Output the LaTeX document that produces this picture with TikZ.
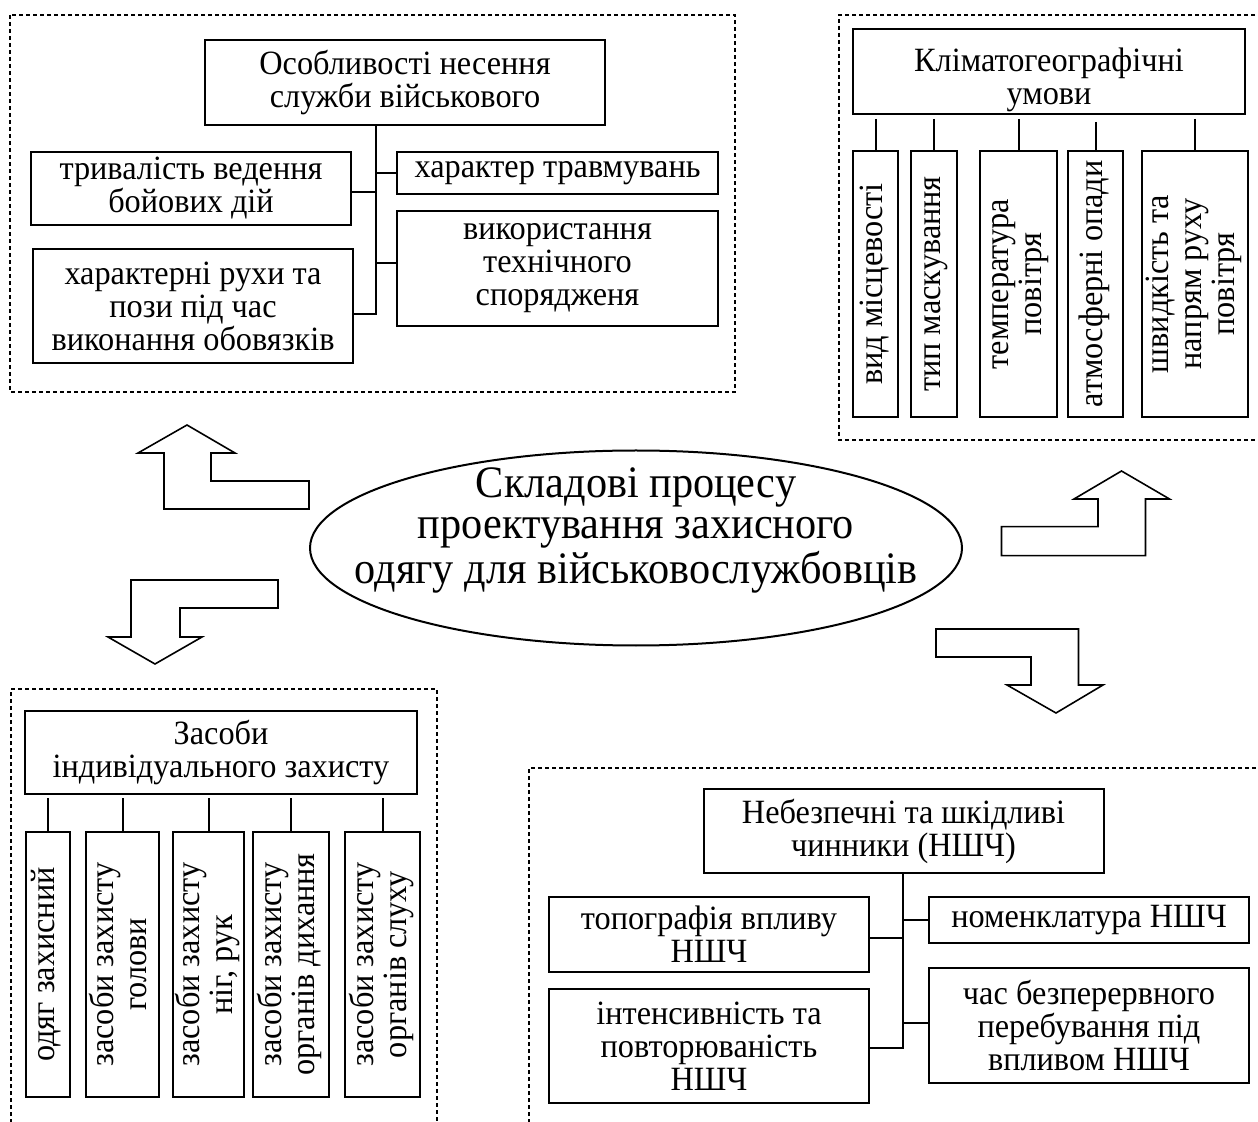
\documentclass[tikz,border=0pt]{standalone}
\usepackage{graphicx}
\usepackage{fontspec}
\setmainfont{Liberation Serif}
\newfontfamily\boxfont[FakeStretch=0.95]{Liberation Serif}
\newfontfamily\condfont[FakeStretch=0.94]{Liberation Serif}
\usetikzlibrary{shapes.geometric}
\newcommand\vtext[1]{\rotatebox{90}{\begin{tabular}{@{}c@{}}#1\end{tabular}}}
\begin{document}
\begin{tikzpicture}[x=0.5pt,y=-0.5pt,
  box/.style={draw,line width=1pt,align=center,inner sep=0pt,font=\boxfont\fontsize{17}{16.5}\selectfont},
  conn/.style={line width=1pt},
  dashframe/.style={line width=0.8pt,dash pattern=on 2pt off 1.5pt},
  blockarrow/.style={draw,line width=0.8pt,line join=miter}]
\useasboundingbox (0,0) rectangle (1258,1122);

% ---------- frames ----------
\draw[dashframe] (10,15) rectangle (735,392);
\draw[dashframe] (1262,15) -- (839,15) -- (839,440) -- (1262,440);
\draw[dashframe] (11,1130) -- (11,689) -- (437,689) -- (437,1130);
\draw[dashframe] (529,1130) -- (529,768) -- (1262,768);

% ---------- top-left block ----------
\node[box,minimum width=200pt,minimum height=42.5pt] (tlT) at (405,82.5) {Особливості несення\\служби військового};
\node[box,minimum width=160pt,minimum height=36.5pt] (tlL1) at (191,188.5) {тривалість ведення\\бойових дій};
\node[box,minimum width=160pt,minimum height=57pt] (tlL2) at (193,306) {характерні рухи та\\пози під час\\виконання обовязків};
\node[box,minimum width=160.5pt,minimum height=21pt] (tlR1) at (557.5,173) {характер травмувань};
\node[box,minimum width=160.5pt,minimum height=57.5pt] (tlR2) at (557.5,268.5) {використання\\технічного\\спорядженя};
\coordinate (tlJ) at (376,314);
\draw[conn] (tlT.south -| tlJ) -- (tlJ) -- ([yshift=-4pt]tlL2.east);
\draw[conn] (tlR1.west) -- (tlR1.west -| tlJ);
\draw[conn] ([yshift=-1.75pt]tlL1.east) -- ([yshift=-1.75pt]tlL1.east -| tlJ);
\draw[conn] ([yshift=2.75pt]tlR2.west) -- ([yshift=2.75pt]tlR2.west -| tlJ);

% ---------- top-right block ----------
\node[box,minimum width=196pt,minimum height=42.5pt] (trT) at (1049,71.5)
  {\raisebox{-9pt}[0pt][0pt]{\begin{tabular}{@{}c@{}}Кліматогеографічні\\умови\end{tabular}}};
\node[box,minimum width=22.5pt,minimum height=133pt] (trV1) at (875.5,284) {\vtext{вид місцевості}};
\node[box,minimum width=23pt,minimum height=133pt] (trV2) at (934,284) {\vtext{тип маскування}};
\node[box,minimum width=38.5pt,minimum height=133pt] (trV3) at (1018.5,284) {\vtext{температура\\повітря}};
\node[box,minimum width=27.5pt,minimum height=133pt] (trV4) at (1095.5,284) {\vtext{атмосферні опади}};
\node[box,minimum width=53pt,minimum height=133pt] (trV5) at (1195,284) {\vtext{швидкість та\\напрям руху\\повітря}};
\foreach \n in {trV1,trV2,trV3,trV5}
  \draw[conn] ([yshift=-2pt]trT.south -| \n.north) -- (\n.north);
\draw[conn] ([yshift=-3.5pt]trT.south -| trV4.north) -- (trV4.north);

% ---------- centre ----------
\node[draw,ellipse,line width=1pt,minimum width=326pt,minimum height=97.5pt,inner sep=0pt] (ctr) at (636,548)
  {\raisebox{3pt}[0pt][0pt]{\makebox[0pt]{\condfont\fontsize{22.5}{20.5}\selectfont\begin{tabular}{@{}c@{}}Складові процесу\\проектування захисного\\одягу для військовослужбовців\end{tabular}}}};

% ---------- block arrows ----------
\draw[blockarrow] (309,481) -- (211,481) -- (211,453) -- (235,453) -- (187,425) -- (138,453) -- (164,453) -- (164,509) -- (309,509) -- cycle;
\draw[blockarrow] (278,580) -- (131,580) -- (131,637) -- (108,637) -- (155,664) -- (202,637) -- (180,637) -- (180,608) -- (278,608) -- cycle;
\draw[blockarrow] (1001.5,526.7) -- (1098,526.7) -- (1098,499) -- (1074,499) -- (1121.5,471) -- (1169.5,499) -- (1145.5,499) -- (1145.5,555.7) -- (1001.5,555.7) -- cycle;
\draw[blockarrow] (936,629) -- (1078.5,629) -- (1078.5,685) -- (1103,685) -- (1056,713) -- (1007,685) -- (1031,685) -- (1031,657) -- (936,657) -- cycle;

% ---------- bottom-left block ----------
\node[box,minimum width=196pt,minimum height=41.5pt] (blT) at (221,752.5) {Засоби\\індивідуального захисту};
\node[box,minimum width=22pt,minimum height=132.5pt] (blV1) at (48,964.5) {\vtext{одяг захисний}};
\node[box,minimum width=36.5pt,minimum height=132.5pt] (blV2) at (122.5,964.5) {\vtext{засоби захисту\\голови}};
\node[box,minimum width=35.5pt,minimum height=132.5pt] (blV3) at (208.5,964.5) {\vtext{засоби захисту\\ніг, рук}};
\node[box,minimum width=38pt,minimum height=132.5pt] (blV4) at (291,964.5) {\vtext{засоби захисту\\органів дихання}};
\node[box,minimum width=37.5pt,minimum height=132.5pt] (blV5) at (382.5,964.5) {\vtext{засоби захисту\\органів слуху}};
\foreach \n in {blV1,blV2,blV3,blV4,blV5}
  \draw[conn] ([yshift=-1.5pt]blT.south -| \n.north) -- (\n.north);

% ---------- bottom-right block ----------
\node[box,minimum width=200pt,minimum height=42pt] (brT) at (903.5,831) {Небезпечні та шкідливі\\чинники (НШЧ)};
\node[box,minimum width=160pt,minimum height=37.5pt] (brL1) at (709,934.5) {топографія впливу\\НШЧ};
\node[box,minimum width=160pt,minimum height=57pt] (brL2) at (709,1046) {інтенсивність та\\повторюваність\\НШЧ};
\node[box,minimum width=160pt,minimum height=23pt] (brR1) at (1089,920) {номенклатура НШЧ};
\node[box,minimum width=160pt,minimum height=57.5pt] (brR2) at (1089,1025.5) {час безперервного\\перебування під\\впливом НШЧ};
\coordinate (brJ) at (902.6,1048);
\draw[conn] (brT.south -| brJ) -- (brJ) -- (brJ -| brL2.east);
\draw[conn] (brR1.west) -- (brR1.west -| brJ);
\draw[conn] ([yshift=-1.75pt]brL1.east) -- ([yshift=-1.75pt]brL1.east -| brJ);
\draw[conn] ([yshift=1.25pt]brR2.west) -- ([yshift=1.25pt]brR2.west -| brJ);
\end{tikzpicture}
\end{document}
